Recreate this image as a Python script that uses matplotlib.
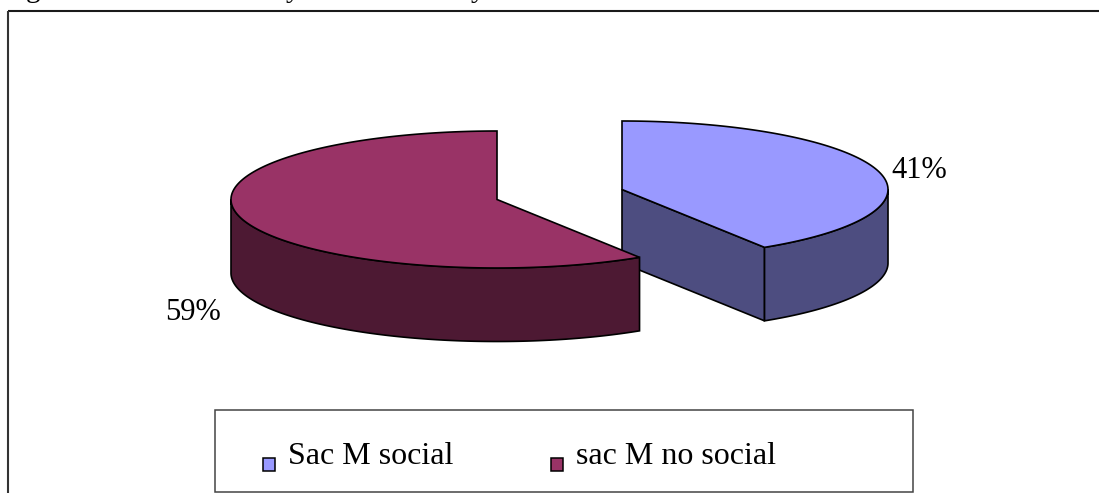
import numpy as np
import matplotlib
matplotlib.use('Agg')
import matplotlib.pyplot as plt
from matplotlib.patches import Polygon, Rectangle

labels = ['Sac M social', 'sac M no social']
values = [41, 59]
pct_labels = ['41%', '59%']
top_colors = ['#9999FF', '#993366']
side_colors = ['#4D4D80', '#4D1933']

plt.rcParams['font.family'] = ['Liberation Serif', 'DejaVu Serif']

W, H = 1099, 493
fig = plt.figure(figsize=(W / 100, H / 100), dpi=100)
ax = fig.add_axes([0, 0, 1, 1])
ax.set_xlim(0, W)
ax.set_ylim(H, 0)
ax.axis('off')

# pie sizes in pixels
rx, ry, depth = 266, 68.5, 73.5
centers = [(622, 189.5), (497, 199.5)]
edge_w = 1.2


def arc(cx, cy, a0, a1):
    # angles measured clockwise from 12 o'clock
    t = np.radians(np.linspace(a0, a1, 200))
    return np.column_stack([cx + rx * np.sin(t), cy - ry * np.cos(t)])


total = sum(values)
blue_end = 360.0 * values[0] / total

# blue slice goes first, the red one overlaps it
cx, cy = centers[0]
top = arc(cx, cy, 0, blue_end)
z = 2
vis = arc(cx, cy, 90, blue_end)
ax.add_patch(Polygon(np.vstack([[cx, cy], [cx, cy + depth], top[-1] + [0, depth], top[-1]]),
                     fc=side_colors[0], ec='black', lw=edge_w, zorder=z))
ax.add_patch(Polygon(np.vstack([vis, vis[::-1] + [0, depth]]),
                     fc=side_colors[0], ec='black', lw=edge_w, zorder=z))
ax.add_patch(Polygon(np.vstack([[cx, cy], top]), fc=top_colors[0], ec='black', lw=edge_w, zorder=z))

cx, cy = centers[1]
top = arc(cx, cy, blue_end, 360)
z = 3
vis = arc(cx, cy, blue_end, 270)
ax.add_patch(Polygon(np.vstack([vis, vis[::-1] + [0, depth]]),
                     fc=side_colors[1], ec='black', lw=edge_w, zorder=z))
ax.add_patch(Polygon(np.vstack([[cx, cy], top]), fc=top_colors[1], ec='black', lw=edge_w, zorder=z))

# percent labels
ax.text(891, 170.5, pct_labels[0], fontsize=22, color='black', ha='left', va='center')
ax.text(165, 312, pct_labels[1], fontsize=22, color='black', ha='left', va='center')

# outer frame: only the top and left edges are in the crop
ax.plot([7.5, W], [10.5, 10.5], color='#1a1a1a', lw=1.5, solid_capstyle='butt')
ax.plot([7.5, 7.5], [10.5, H], color='#333333', lw=1.5, solid_capstyle='butt')

# legend box
ax.add_patch(Rectangle((215, 410), 697.5, 82, fc='white', ec='#444444', lw=1.1))
for x, x_text, col, lab in zip([262.5, 550.5], [288, 576], top_colors, labels):
    ax.add_patch(Rectangle((x, 457.5), 12, 13, fc=col, ec='black', lw=1.1))
    ax.text(x_text, 464, lab, fontsize=23, color='black', ha='left', va='baseline')

# the caption above is cut off by the crop, only its descenders remain
for x, ch in zip([33, 293, 478], ['g', 'y', 'y']):
    ax.text(x, -3, ch, fontsize=21, color='black', ha='center', va='baseline', clip_on=False)

fig.savefig('out.png', dpi=100)
